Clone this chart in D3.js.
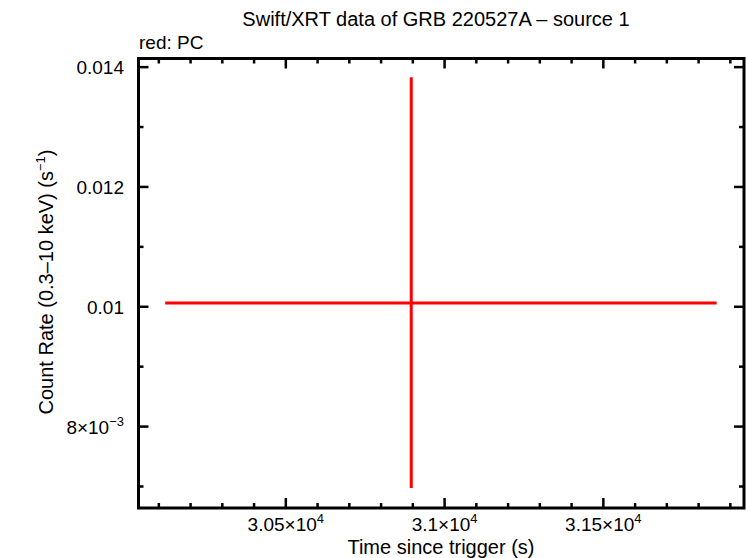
<!DOCTYPE html>
<html>
<head>
<meta charset="utf-8">
<script src="https://cdn.jsdelivr.net/npm/d3@7"></script>
<style>
  body { margin: 0; background: #fff; }
  text { font-family: "Liberation Sans", Arial, sans-serif; fill: #000; }
</style>
</head>
<body>
<svg id="chart" width="746" height="558"></svg>
<script>
// one PC-mode bin: time, time errors, rate, rate errors
const time = [30895]
const timeNeg = [775]
const timePos = [962]
const rate = [0.010062]
const rateNeg = [0.003087]
const ratePos = [0.003771]

const xMajor = [30500, 31000, 31500]
const xMajorLabels = [["3.05×10", "4"], ["3.1×10", "4"], ["3.15×10", "4"]]
const yMajor = [0.008, 0.01, 0.012, 0.014]
const yMajorLabels = [["8×10", "−3"], ["0.01", null], ["0.012", null], ["0.014", null]]

const m = {left: 138.5, right: 744, top: 58.5, bottom: 508}

// small stand-in for d3-selection-multi's .attrs
d3.selection.prototype.attrs = function(o) {
  Object.keys(o).forEach(k => this.attr(k, o[k]))
  return this
}

let svg = d3.select("#chart")

let x = d3.scaleLinear().domain([30036, 31943]).range([m.left, m.right])
let y = d3.scaleLinear().domain([0.006641, 0.014144]).range([m.bottom, m.top])

let xMinor = d3.range(30100, 31950, 100).filter(v => !xMajor.includes(v))
let yMinor = [0.007, 0.009, 0.011, 0.013]

let ticks = svg.append("g").attr("stroke", "#000").attr("stroke-width", 2.5)

// ticks point inward on all four sides
function xTicks(vals, len) {
  vals.forEach(v => {
    ticks.append("line").attrs({x1: x(v), x2: x(v), y1: m.bottom, y2: m.bottom - len})
    ticks.append("line").attrs({x1: x(v), x2: x(v), y1: m.top, y2: m.top + len})
  })
}
function yTicks(vals, len) {
  vals.forEach(v => {
    ticks.append("line").attrs({y1: y(v), y2: y(v), x1: m.left, x2: m.left + len})
    ticks.append("line").attrs({y1: y(v), y2: y(v), x1: m.right, x2: m.right - len})
  })
}
xTicks(xMajor, 10)
xTicks(xMinor, 5)
yTicks(yMajor, 10)
yTicks(yMinor, 5)

svg.append("rect")
  .attrs({x: m.left, y: m.top, width: m.right - m.left, height: m.bottom - m.top,
          fill: "none", stroke: "#000", "stroke-width": 3})

// tick labels
function label(g, parts) {
  g.append("tspan").text(parts[0])
  if (parts[1]) g.append("tspan").attr("font-size", 13).attr("dy", -8).text(parts[1])
}
xMajor.forEach((v, i) => {
  let t = svg.append("text").attrs({x: x(v), y: 531, "text-anchor": "middle", "font-size": 19})
  label(t, xMajorLabels[i])
})
yMajor.forEach((v, i) => {
  let t = svg.append("text").attrs({x: 124, y: y(v) + 7, "text-anchor": "end", "font-size": 19})
  label(t, yMajorLabels[i])
})

// titles
svg.append("text").attrs({x: 436, y: 26, "text-anchor": "middle", "font-size": 20})
  .text("Swift/XRT data of GRB 220527A – source 1")
svg.append("text").attrs({x: 139, y: 48.5, "font-size": 19}).text("red: PC")
svg.append("text").attrs({x: 441, y: 554, "text-anchor": "middle", "font-size": 20})
  .text("Time since trigger (s)")

let yl = svg.append("text")
  .attrs({transform: "translate(53,282) rotate(-90)", "text-anchor": "middle", "font-size": 20})
yl.append("tspan").text("Count Rate (0.3–10 keV) (s")
yl.append("tspan").attr("font-size", 13).attr("dy", -8).text("−1")
yl.append("tspan").attr("dy", 8).text(")")

// error bars
let pts = time.map((t, i) => ({t, tn: timeNeg[i], tp: timePos[i], r: rate[i], rn: rateNeg[i], rp: ratePos[i]}))
let bars = svg.append("g").attr("stroke", "#ff0000").attr("stroke-width", 3)
bars.selectAll(".xerr").data(pts).enter().append("line")
  .attrs({x1: d => x(d.t - d.tn), x2: d => x(d.t + d.tp), y1: d => y(d.r), y2: d => y(d.r)})
bars.selectAll(".yerr").data(pts).enter().append("line")
  .attrs({x1: d => x(d.t), x2: d => x(d.t), y1: d => y(d.r - d.rn), y2: d => y(d.r + d.rp)})
</script>
</body>
</html>
